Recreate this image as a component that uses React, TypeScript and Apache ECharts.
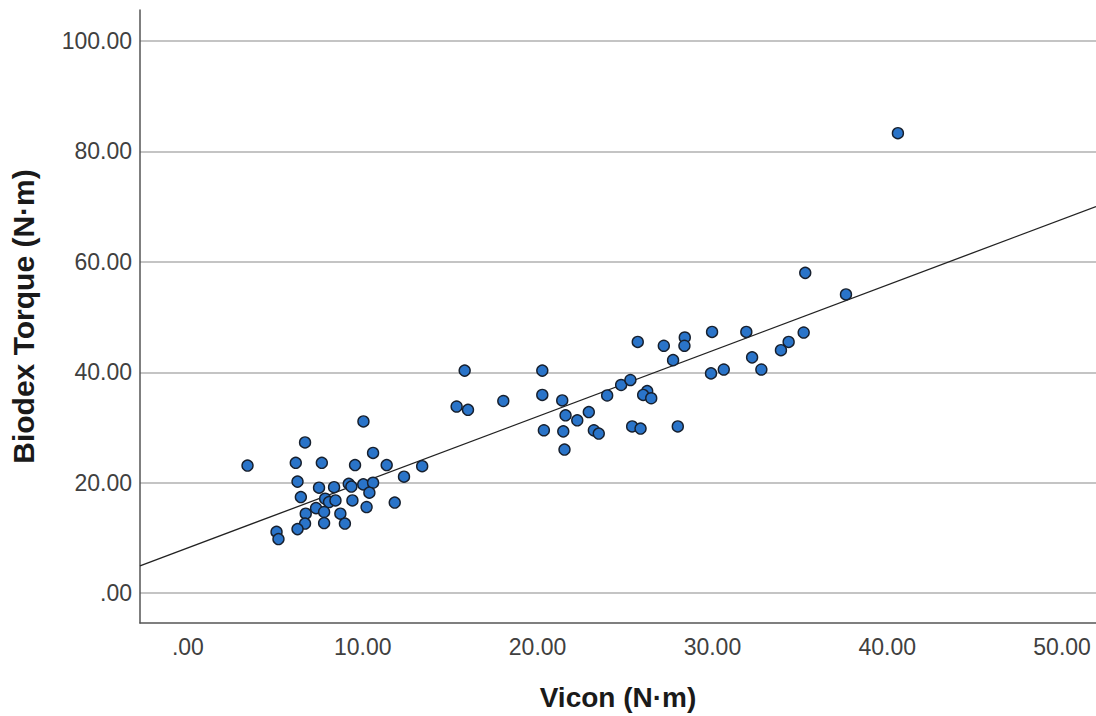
import React, { useEffect, useRef } from "react";
import * as echarts from "echarts";

// Vicon torque (N·m), x values
const viconValues: number[] = [
  3.41, 6.70, 10.04, 6.17, 7.66, 10.59, 9.56, 11.37, 13.40, 12.36,
  6.27, 7.50, 8.36, 9.20, 9.35, 10.03, 10.59, 10.38, 6.46, 7.85,
  8.07, 8.44, 9.41, 11.83, 10.22, 7.33, 7.79, 6.74, 8.72, 6.70,
  7.79, 8.98, 6.27, 5.07, 5.18,
  15.83, 20.27, 15.37, 16.02, 18.04, 20.27, 21.41, 21.60, 22.27, 22.93,
  23.98, 20.36, 21.47, 23.22, 23.50, 21.54, 25.73, 27.22, 28.42, 28.40,
  29.98, 27.75, 29.92, 30.65, 24.78, 25.31, 26.27, 26.04, 26.50, 25.41,
  25.89, 28.02, 31.94, 35.22, 34.36, 33.92, 32.27, 32.80, 40.61, 35.31,
  37.64,
];

// Biodex torque (N·m), y values
const biodexValues: number[] = [
  23.1, 27.3, 31.1, 23.6, 23.6, 25.4, 23.2, 23.2, 23.0, 21.1,
  20.2, 19.1, 19.2, 19.8, 19.3, 19.7, 20.0, 18.2, 17.4, 17.1,
  16.5, 16.8, 16.8, 16.4, 15.6, 15.4, 14.7, 14.4, 14.4, 12.6,
  12.7, 12.6, 11.6, 11.1, 9.8,
  40.3, 40.3, 33.8, 33.2, 34.8, 35.9, 34.9, 32.2, 31.3, 32.8,
  35.8, 29.5, 29.3, 29.5, 28.9, 26.0, 45.5, 44.8, 46.3, 44.8,
  47.3, 42.2, 39.8, 40.5, 37.7, 38.6, 36.6, 35.9, 35.3, 30.2,
  29.8, 30.2, 47.3, 47.2, 45.5, 44.0, 42.7, 40.5, 83.3, 58.0,
  54.1,
];

// Fit line (linear regression shown in the chart)
const fitIntercept = 8.2;
const fitSlope = 1.19;

// Axis extents
const xMin = -2.74;
const xMax = 51.94;
const yMin = -5.4;
const yMax = 105.6;

const fmt = (v: number) => (v === 0 ? ".00" : v.toFixed(2));

export default function App() {
  const ref = useRef<HTMLDivElement>(null);

  useEffect(() => {
    if (!ref.current) return;
    const chart = echarts.init(ref.current, null, { renderer: "svg" });
    const points = viconValues.map((x, i) => [x, biodexValues[i]]);
    const fitLine = [
      [xMin, fitIntercept + fitSlope * xMin],
      [xMax, fitIntercept + fitSlope * xMax],
    ];
    chart.setOption({
      animation: false,
      backgroundColor: "#ffffff",
      grid: { left: 139, right: 0, top: 10, bottom: 90, containLabel: false },
      xAxis: {
        type: "value",
        min: xMin,
        max: xMax,
        name: "Vicon (N·m)",
        nameLocation: "middle",
        nameGap: 74,
        nameTextStyle: {
          fontFamily: "Liberation Sans, Arial, sans-serif",
          fontWeight: "bold",
          fontSize: 28,
          color: "#1a1a1a",
          verticalAlign: "middle",
        },
        axisLine: { show: true, onZero: false, lineStyle: { color: "#555555", width: 1.5 } },
        axisTick: { show: false },
        splitLine: { show: false },
        axisLabel: {
          showMinLabel: false,
          showMaxLabel: false,
          formatter: fmt,
          fontFamily: "Liberation Sans, Arial, sans-serif",
          fontSize: 23,
          color: "#404040",
          margin: 12,
        },
      },
      yAxis: {
        type: "value",
        min: yMin,
        max: yMax,
        name: "Biodex Torque (N·m)",
        nameLocation: "middle",
        nameGap: 117,
        nameRotate: 90,
        nameTextStyle: {
          fontFamily: "Liberation Sans, Arial, sans-serif",
          fontWeight: "bold",
          fontSize: 30,
          color: "#1a1a1a",
          verticalAlign: "middle",
        },
        axisLine: { show: true, onZero: false, lineStyle: { color: "#555555", width: 1.5 } },
        axisTick: { show: false },
        splitLine: {
          show: true,
          showMinLine: false,
          showMaxLine: false,
          lineStyle: { color: "#c4c4c4", width: 2 },
        },
        axisLabel: {
          showMinLabel: false,
          showMaxLabel: false,
          formatter: fmt,
          fontFamily: "Liberation Sans, Arial, sans-serif",
          fontSize: 23,
          color: "#404040",
          margin: 8,
        },
      },
      series: [
        {
          type: "line",
          data: fitLine,
          symbol: "none",
          lineStyle: { color: "#222222", width: 1.3 },
          z: 2,
        },
        {
          type: "scatter",
          data: points,
          symbolSize: 11,
          itemStyle: { color: "#2a74c9", borderColor: "#17202e", borderWidth: 1.4, opacity: 1 },
          z: 3,
        },
      ],
    });
    return () => chart.dispose();
  }, []);

  return (
    <div
      ref={ref}
      style={{ position: "fixed", left: 0, top: 0, width: 1096, height: 716, background: "#fff" }}
    />
  );
}
